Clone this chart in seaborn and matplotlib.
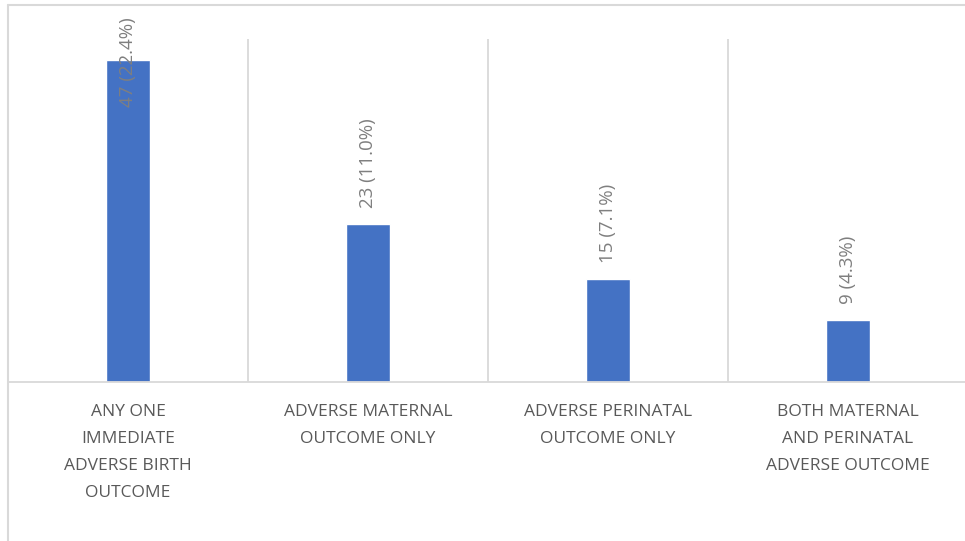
# bar chart of adverse birth outcomes

import seaborn as sns
import matplotlib.pyplot as plt
from matplotlib.lines import Line2D

categories = ['ANY ONE\nIMMEDIATE\nADVERSE BIRTH\nOUTCOME',
              'ADVERSE MATERNAL\nOUTCOME ONLY',
              'ADVERSE PERINATAL\nOUTCOME ONLY',
              'BOTH MATERNAL\nAND PERINATAL\nADVERSE OUTCOME']
counts = [47, 23, 15, 9]
labels = ['47 (22.4%)', '23 (11.0%)', '15 (7.1%)', '9 (4.3%)']

sns.set_style('white')
plt.rcParams['font.family'] = ['Open Sans', 'DejaVu Sans']

W, H = 965, 541
fig = plt.figure(figsize=(W / 100, H / 100), dpi=100)
ax = fig.add_axes([8 / W, 1 - 382 / H, 960 / W, (382 - 39) / H])

sns.barplot(x=categories, y=counts, color='#4472C4', width=0.183,
            saturation=1, ax=ax)
ax.set_ylim(0, 50)
ax.set_xlim(-0.5, 3.5)

for x in [0.5, 1.5, 2.5]:
    ax.axvline(x, color='#d9d9d9', lw=1.3, zorder=0)

for i, (v, t) in enumerate(zip(counts, labels)):
    y = min(v + 2.4, 40.1)
    ax.text(i, y, t, rotation=90, ha='center', va='bottom',
            color='#7f7f7f', fontsize=13.5, clip_on=False)

for s in ['top', 'right', 'left']:
    ax.spines[s].set_visible(False)
ax.spines['bottom'].set_color('#d9d9d9')
ax.spines['bottom'].set_linewidth(1.3)
ax.set_yticks([])
ax.set_xticks(range(len(categories)))
ax.set_xticklabels(categories, fontsize=12.5, color='#595959')
ax.tick_params(axis='x', length=0, pad=16)

# chart border (cropped)
fig.add_artist(Line2D([8 / W, 1], [1 - 5 / H, 1 - 5 / H], color='#d9d9d9', lw=1.5))
fig.add_artist(Line2D([8 / W, 8 / W], [0, 1 - 5 / H], color='#d9d9d9', lw=1.5))

fig.canvas.draw()
for tick in ax.xaxis.get_major_ticks():
    tick.label1.set_linespacing(1.9)

plt.savefig('out.png', dpi=100)
